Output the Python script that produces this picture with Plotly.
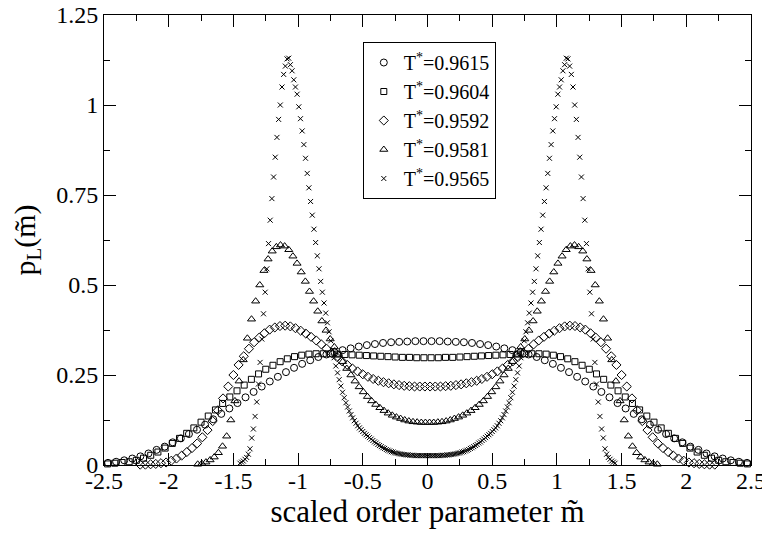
import plotly.graph_objects as go

# ---------------- data ----------------
legend_labels = ["T<sup>*</sup>=0.9615", "T<sup>*</sup>=0.9604", "T<sup>*</sup>=0.9592",
                 "T<sup>*</sup>=0.9581", "T<sup>*</sup>=0.9565"]

# histogram bins of the scaled order parameter: (first bin centre, bin width, number of bins)
bins_9615 = (-2.46875, 0.0625, 80)
bins_9604 = (-2.47222, 0.05556, 90)
bins_9592 = (-2.22, 0.04, 112)
bins_9581 = (-1.776, 0.032, 112)
bins_9565 = (-1.4495, 0.013, 224)

p_9615 = [0.006, 0.009, 0.013, 0.018, 0.024, 0.032, 0.042, 0.051, 0.063, 0.074,
          0.086, 0.098, 0.112, 0.127, 0.142, 0.157, 0.172, 0.188, 0.203, 0.218,
          0.232, 0.245, 0.258, 0.270, 0.281, 0.291, 0.300, 0.307, 0.313, 0.319,
          0.324, 0.329, 0.333, 0.336, 0.339, 0.341, 0.342, 0.343, 0.344, 0.344,
          0.344, 0.344, 0.343, 0.342, 0.341, 0.339, 0.336, 0.333, 0.329, 0.324,
          0.319, 0.313, 0.307, 0.300, 0.291, 0.281, 0.270, 0.258, 0.245, 0.232,
          0.218, 0.203, 0.188, 0.172, 0.157, 0.142, 0.127, 0.112, 0.098, 0.086,
          0.074, 0.063, 0.051, 0.042, 0.032, 0.024, 0.018, 0.013, 0.009, 0.006]

p_9604 = [0.003, 0.005, 0.007, 0.009, 0.013, 0.019, 0.027, 0.036, 0.047, 0.060,
          0.074, 0.088, 0.103, 0.119, 0.136, 0.153, 0.171, 0.189, 0.206, 0.222,
          0.238, 0.253, 0.266, 0.277, 0.287, 0.295, 0.301, 0.305, 0.308, 0.309,
          0.309, 0.309, 0.308, 0.307, 0.306, 0.305, 0.304, 0.303, 0.302, 0.301,
          0.300, 0.299, 0.299, 0.298, 0.298,
          0.298, 0.298, 0.299, 0.299, 0.300, 0.301, 0.302, 0.303, 0.304, 0.305,
          0.306, 0.307, 0.308, 0.309, 0.309, 0.309, 0.308, 0.305, 0.301, 0.295,
          0.287, 0.277, 0.266, 0.253, 0.238, 0.222, 0.206, 0.189, 0.171, 0.153,
          0.136, 0.119, 0.103, 0.088, 0.074, 0.060, 0.047, 0.036, 0.027, 0.019,
          0.013, 0.009, 0.007, 0.005, 0.003]

p_9592 = [0.001, 0.001, 0.002, 0.003, 0.005, 0.007, 0.012, 0.018, 0.026, 0.036,
          0.047, 0.060, 0.077, 0.097, 0.122, 0.152, 0.185, 0.218, 0.250, 0.278,
          0.302, 0.323, 0.341, 0.354, 0.366, 0.376, 0.382, 0.386, 0.387, 0.385,
          0.380, 0.373, 0.365, 0.356, 0.346, 0.335, 0.323, 0.311, 0.300, 0.288,
          0.278, 0.268, 0.260, 0.252, 0.245, 0.239, 0.234, 0.230, 0.227, 0.224,
          0.222, 0.220, 0.219, 0.218, 0.218, 0.218,
          0.218, 0.218, 0.218, 0.219, 0.220, 0.222, 0.224, 0.227, 0.230, 0.234,
          0.239, 0.245, 0.252, 0.260, 0.268, 0.278, 0.288, 0.300, 0.311, 0.323,
          0.335, 0.346, 0.356, 0.365, 0.373, 0.380, 0.385, 0.387, 0.386, 0.382,
          0.376, 0.366, 0.354, 0.341, 0.323, 0.302, 0.278, 0.250, 0.218, 0.185,
          0.152, 0.122, 0.097, 0.077, 0.060, 0.047, 0.036, 0.026, 0.018, 0.012,
          0.007, 0.005, 0.003, 0.002, 0.001, 0.001]

p_9581 = [0.002, 0.004, 0.008, 0.014, 0.022, 0.034, 0.052, 0.080, 0.125, 0.178,
          0.233, 0.292, 0.352, 0.405, 0.455, 0.500, 0.540, 0.572, 0.594, 0.606,
          0.611, 0.608, 0.598, 0.580, 0.560, 0.536, 0.510, 0.482, 0.455, 0.427,
          0.400, 0.374, 0.350, 0.328, 0.307, 0.287, 0.268, 0.250, 0.233, 0.217,
          0.203, 0.190, 0.178, 0.168, 0.159, 0.151, 0.144, 0.138, 0.133, 0.129,
          0.125, 0.122, 0.120, 0.119, 0.118, 0.118,
          0.118, 0.118, 0.119, 0.120, 0.122, 0.125, 0.129, 0.133, 0.138, 0.144,
          0.151, 0.159, 0.168, 0.178, 0.190, 0.203, 0.217, 0.233, 0.250, 0.268,
          0.287, 0.307, 0.328, 0.350, 0.374, 0.400, 0.427, 0.455, 0.482, 0.510,
          0.536, 0.560, 0.580, 0.598, 0.608, 0.611, 0.606, 0.594, 0.572, 0.540,
          0.500, 0.455, 0.405, 0.352, 0.292, 0.233, 0.178, 0.125, 0.080, 0.052,
          0.034, 0.022, 0.014, 0.008, 0.004, 0.002]

p_9565 = [0.005, 0.008, 0.011, 0.016, 0.021, 0.030, 0.045, 0.075, 0.100, 0.135,
          0.175, 0.225, 0.285, 0.350, 0.420, 0.480, 0.545, 0.615, 0.680, 0.740,
          0.800, 0.855, 0.910, 0.960, 1.000, 1.050, 1.085, 1.108, 1.128, 1.130,
          1.112, 1.095, 1.070, 1.050, 1.030, 0.995, 0.962, 0.928, 0.890, 0.852,
          0.810, 0.770, 0.732, 0.694, 0.655, 0.618, 0.581, 0.545, 0.510, 0.480,
          0.450, 0.422, 0.395, 0.370, 0.345, 0.320, 0.298, 0.275, 0.256, 0.237,
          0.219, 0.202, 0.187, 0.173, 0.161, 0.150, 0.140, 0.131, 0.123, 0.116,
          0.109, 0.103, 0.098, 0.093, 0.088, 0.084, 0.080, 0.076, 0.072, 0.068,
          0.064, 0.061, 0.057, 0.054, 0.051, 0.048, 0.046, 0.043, 0.041, 0.039,
          0.037, 0.036, 0.034, 0.033, 0.032, 0.031, 0.030, 0.029, 0.029, 0.028,
          0.028, 0.027, 0.027, 0.027, 0.026, 0.026, 0.026, 0.026, 0.026, 0.026,
          0.026, 0.026,
          0.026, 0.026, 0.026, 0.026, 0.026, 0.026, 0.026, 0.026, 0.027, 0.027,
          0.027, 0.028, 0.028, 0.029, 0.029, 0.030, 0.031, 0.032, 0.033, 0.034,
          0.036, 0.037, 0.039, 0.041, 0.043, 0.046, 0.048, 0.051, 0.054, 0.057,
          0.061, 0.064, 0.068, 0.072, 0.076, 0.080, 0.084, 0.088, 0.093, 0.098,
          0.103, 0.109, 0.116, 0.123, 0.131, 0.140, 0.150, 0.161, 0.173, 0.187,
          0.202, 0.219, 0.237, 0.256, 0.275, 0.298, 0.320, 0.345, 0.370, 0.395,
          0.422, 0.450, 0.480, 0.510, 0.545, 0.581, 0.618, 0.655, 0.694, 0.732,
          0.770, 0.810, 0.852, 0.890, 0.928, 0.962, 0.995, 1.030, 1.050, 1.070,
          1.095, 1.112, 1.130, 1.128, 1.108, 1.085, 1.050, 1.000, 0.960, 0.910,
          0.855, 0.800, 0.740, 0.680, 0.615, 0.545, 0.480, 0.420, 0.350, 0.285,
          0.225, 0.175, 0.135, 0.100, 0.075, 0.045, 0.030, 0.021, 0.016, 0.011,
          0.008, 0.005]

x_tick_values = [-2.5, -2, -1.5, -1, -0.5, 0, 0.5, 1, 1.5, 2, 2.5]
x_tick_labels = ["-2.5", "-2", "-1.5", "-1", "-0.5", "0", "0.5", "1", "1.5", "2", "2.5"]
y_tick_values = [0, 0.25, 0.5, 0.75, 1, 1.25]
y_tick_labels = ["0", "0.25", "0.5", "0.75", "1", "1.25"]


def centres(first, width, count):
    return [round(first + width * i, 5) for i in range(count)]


series = [
    (bins_9615, p_9615, "circle-open", 7),
    (bins_9604, p_9604, "square-open", 6),
    (bins_9592, p_9592, "diamond-open", 7),
    (bins_9581, p_9581, "triangle-up-open", 7),
    (bins_9565, p_9565, "x-thin-open", 5),
]

FONT = '"Liberation Serif", "Times New Roman", "DejaVu Serif", serif'
fig = go.Figure()
for (b, p, sym, sz), name in zip(series, legend_labels):
    xs = centres(*b)
    assert len(xs) == len(p), (name, len(xs), len(p))
    fig.add_trace(go.Scatter(
        x=xs, y=p, mode="markers", name=name, cliponaxis=False,
        marker=dict(symbol=sym, size=sz, color="black",
                    line=dict(color="black", width=1)),
    ))

axis_common = dict(
    ticks="inside", ticklen=12, tickwidth=1, tickcolor="black",
    showline=True, linecolor="black", linewidth=1, mirror="allticks",
    showgrid=False, zeroline=False, tickmode="array", automargin=False,
    ticklabeloverflow="allow",
    tickfont=dict(family=FONT, size=24, color="black"),
)

# the page adds an 8 px body margin, so the figure is 8 px smaller and margins shifted
fig.update_layout(
    width=762, height=525,
    margin=dict(l=96, r=19, t=7, b=68),
    paper_bgcolor="white", plot_bgcolor="white",
    font=dict(family=FONT, color="black"),
    xaxis=dict(range=[-2.5, 2.5], tickvals=x_tick_values, ticktext=x_tick_labels,
               ticklabelstandoff=-6,
               minor=dict(ticks="inside", ticklen=6, tickcolor="black",
                          tickmode="linear", tick0=0, dtick=0.25, showgrid=False),
               title=dict(text="scaled order parameter m\u0303",
                          font=dict(family=FONT, size=31, color="black"), standoff=0),
               **axis_common),
    yaxis=dict(range=[0, 1.25], tickvals=y_tick_values, ticktext=y_tick_labels,
               minor=dict(ticks="inside", ticklen=6, tickcolor="black",
                          tickmode="linear", tick0=0, dtick=0.125, showgrid=False),
               title=dict(text="p<sub>L</sub>(m\u0303)",
                          font=dict(family=FONT, size=30, color="black"), standoff=16),
               **axis_common),
    legend=dict(x=0.40, y=0.94, xanchor="left", yanchor="top",
                bordercolor="black", borderwidth=1, bgcolor="white",
                font=dict(family=FONT, size=20, color="black"),
                tracegroupgap=0, itemwidth=30),
)

fig.write_html("out.html")
